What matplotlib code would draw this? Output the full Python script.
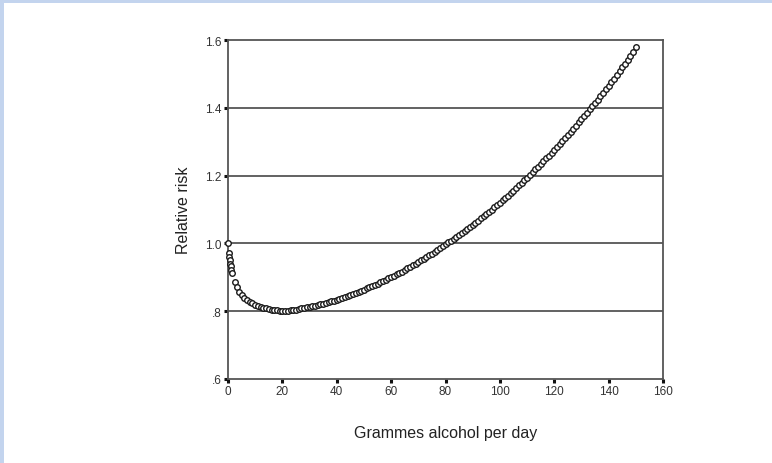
import matplotlib
matplotlib.use("Agg")
import matplotlib.pyplot as plt
from matplotlib.patches import Rectangle

plt.rcParams['font.family'] = ['Liberation Sans', 'DejaVu Sans']

# Grammes of alcohol per day and the fitted relative risk at each dose
grams_low = [0, 0.2, 0.4, 0.6, 0.8, 1.0, 1.2, 1.4, 2.5, 3.3]
risk_low = [1.000, 0.972, 0.960, 0.950, 0.940, 0.932, 0.922, 0.912, 0.885, 0.870]

grams_main = list(range(4, 151))
risk_main = [
    0.858, 0.848, 0.840, 0.834, 0.828, 0.823, 0.819, 0.816, 0.813, 0.810,   # 4-13
    0.808, 0.806, 0.805, 0.804, 0.803, 0.802, 0.802, 0.802, 0.802, 0.803,   # 14-23
    0.804, 0.805, 0.807, 0.808, 0.810, 0.811, 0.813, 0.815, 0.816, 0.818,   # 24-33
    0.820, 0.822, 0.824, 0.826, 0.829, 0.831, 0.834, 0.837, 0.839, 0.842,   # 34-43
    0.845, 0.848, 0.851, 0.854, 0.857, 0.860, 0.864, 0.867, 0.870, 0.874,   # 44-53
    0.877, 0.881, 0.885, 0.889, 0.893, 0.897, 0.901, 0.905, 0.909, 0.913,   # 54-63
    0.917, 0.922, 0.926, 0.931, 0.936, 0.940, 0.945, 0.950, 0.955, 0.960,   # 64-73
    0.965, 0.970, 0.975, 0.981, 0.986, 0.992, 0.997, 1.003, 1.008, 1.014,   # 74-83
    1.019, 1.025, 1.031, 1.037, 1.043, 1.049, 1.055, 1.061, 1.067, 1.074,   # 84-93
    1.080, 1.087, 1.093, 1.100, 1.107, 1.113, 1.120, 1.127, 1.134, 1.141,   # 94-103
    1.148, 1.156, 1.163, 1.171, 1.178, 1.186, 1.194, 1.202, 1.210, 1.218,   # 104-113
    1.226, 1.234, 1.242, 1.251, 1.259, 1.267, 1.276, 1.285, 1.293, 1.302,   # 114-123
    1.311, 1.320, 1.329, 1.338, 1.347, 1.357, 1.366, 1.376, 1.385, 1.395,   # 124-133
    1.405, 1.415, 1.424, 1.434, 1.444, 1.454, 1.464, 1.475, 1.486, 1.497,   # 134-143
    1.508, 1.519, 1.530, 1.542, 1.554, 1.566, 1.578,                        # 144-150
]

grams = grams_low + grams_main
risk = risk_low + risk_main

x_ticks = [0, 20, 40, 60, 80, 100, 120, 140, 160]
y_ticks = [0.6, 0.8, 1.0, 1.2, 1.4, 1.6]
y_tick_labels = ['.6', '.8', '1.0', '1.2', '1.4', '1.6']

fig = plt.figure(figsize=(7.72, 4.64), dpi=100)
fig.patch.set_facecolor('white')

# light blue frame along the left and top edges
frame_color = '#c3d4ee'
fig.patches.append(Rectangle((0, 0), 4 / 772, 1, transform=fig.transFigure,
                             facecolor=frame_color, edgecolor='none', zorder=0))
fig.patches.append(Rectangle((0, 1 - 4 / 464), 1, 4 / 464, transform=fig.transFigure,
                             facecolor=frame_color, edgecolor='none', zorder=0))

ax = fig.add_axes([228 / 772, 1 - 380 / 464, 435 / 772, 339 / 464])

line_color = '#555555'
for y in y_ticks[1:-1]:
    ax.axhline(y, color=line_color, linewidth=1.3, zorder=1)

ax.plot(grams, risk, linestyle='none', marker='o', markersize=4.0,
        markerfacecolor='white', markeredgecolor='#1a1a1a',
        markeredgewidth=1.0, zorder=3, clip_on=False)

ax.set_xlim(0, 160)
ax.set_ylim(0.6, 1.6)
ax.set_xticks(x_ticks)
ax.set_yticks(y_ticks)
ax.set_yticklabels(y_tick_labels)

for side in ['left', 'right', 'top', 'bottom']:
    ax.spines[side].set_color(line_color)
    ax.spines[side].set_linewidth(1.3)

ax.tick_params(axis='both', direction='out', length=3, width=2.2,
               color='#111111', labelsize=8.5, labelcolor='#333333', pad=1.5)

ax.set_xlabel('Grammes alcohol per day', fontsize=11.5, color='#222222', labelpad=20)
ax.set_ylabel('Relative risk', fontsize=11.5, color='#222222', labelpad=10)

fig.savefig('out.png', dpi=100, facecolor='white')
